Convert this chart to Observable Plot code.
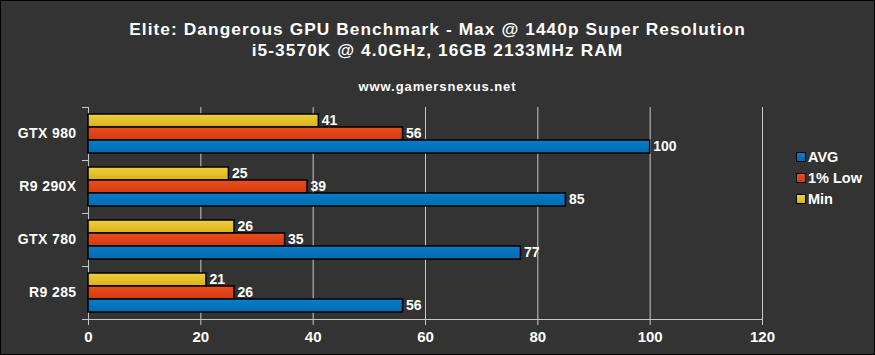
<!DOCTYPE html>
<html>
<head>
<meta charset="utf-8">
<script src="https://cdn.jsdelivr.net/npm/d3@7"></script>
<script src="https://cdn.jsdelivr.net/npm/@observablehq/plot@0.6"></script>
<style>
html, body { margin: 0; padding: 0; background: #333; }
#wrap { position: relative; width: 875px; height: 355px; background: #333; overflow: hidden;
  font-family: "Liberation Sans", Arial, sans-serif; font-weight: bold; color: #fff; }
#wrap::after { content: ""; position: absolute; left: 0; top: 0; right: 0; bottom: 0; border: 1px solid #000; pointer-events: none; }
.t { position: absolute; left: 0; width: 875px; text-align: center; white-space: nowrap; }
#chart { position: absolute; left: 0; top: 100px; }
#legend { position: absolute; left: 796px; top: 152px; }
.sw { position: absolute; left: 0; width: 10px; height: 10px; box-sizing: border-box; border: 1px solid #000; }
.lt { position: absolute; left: 12px; font-size: 14.5px; line-height: 14.5px; white-space: nowrap; }
</style>
</head>
<body>
<div id="wrap">
  <div class="t" id="t1" style="top:21px;font-size:17.3px;line-height:17.3px;letter-spacing:1.08px;"></div>
  <div class="t" id="t2" style="top:42px;font-size:17.3px;line-height:17.3px;letter-spacing:1.08px;"></div>
  <div class="t" id="cap" style="top:79.7px;font-size:13px;line-height:13px;letter-spacing:0.93px;"></div>
  <div id="chart"></div>
  <div id="legend"></div>
</div>
<script>
// ---- data ----
const titleLine1 = "Elite: Dangerous GPU Benchmark - Max @ 1440p Super Resolution";
const titleLine2 = "i5-3570K @ 4.0GHz, 16GB 2133MHz RAM";
const caption = "www.gamersnexus.net";
const gpus = ["GTX 980", "R9 290X", "GTX 780", "R9 285"];
const avgFps = [100, 85, 77, 56];
const lowFps = [56, 39, 35, 26];
const minFps = [41, 25, 26, 21];
const seriesTopToBottom = ["Min", "1% Low", "AVG"];
const legendOrder = ["AVG", "1% Low", "Min"];
const xTicks = [0, 20, 40, 60, 80, 100, 120];
const seriesColors = {
  "AVG":    ["#0a7ccb", "#006aae"],
  "1% Low": ["#ea4e1c", "#d43a10"],
  "Min":    ["#f0cf36", "#d9b21f"]
};

document.getElementById("t1").textContent = titleLine1;
document.getElementById("t2").textContent = titleLine2;
document.getElementById("cap").textContent = caption;

const values = {"AVG": avgFps, "1% Low": lowFps, "Min": minFps};
const data = gpus.flatMap((g, i) => seriesTopToBottom.map(s => ({gpu: g, series: s, value: values[s][i]})));
const gradId = s => "grad" + legendOrder.indexOf(s);

const W = 875, H = 255, mT = 6, mB = 35, mL = 88, mR = 113;
const lineColor = "#c8c8c8";

const plot = Plot.plot({
  width: W, height: H,
  marginTop: mT, marginBottom: mB, marginLeft: mL, marginRight: mR,
  style: {background: "transparent", color: "#fff", fontFamily: "Liberation Sans, Arial, sans-serif", overflow: "visible"},
  x: {domain: [xTicks[0], xTicks[xTicks.length - 1]]},
  fy: {domain: gpus, padding: 0},
  y: {domain: seriesTopToBottom, paddingInner: 0, paddingOuter: 0.5, align: 0.47, axis: null},
  color: {type: "identity"},
  marks: [
    Plot.gridX({ticks: xTicks, stroke: lineColor, strokeOpacity: 1}),
    Plot.barX(data, {fy: "gpu", y: "series", x: "value", fill: d => `url(#${gradId(d.series)})`, stroke: "#000", strokeWidth: 1.5}),
    Plot.text(data, {fy: "gpu", y: "series", x: "value", text: d => String(d.value), textAnchor: "start", dx: 3,
      fill: "#fff", fontSize: 14, fontWeight: "bold"}),
    Plot.axisX({ticks: xTicks, tickSize: 6, tickPadding: 6, stroke: lineColor, fill: "#fff", fontSize: 15, fontWeight: "bold", label: null}),
    Plot.axisFy({anchor: "left", tickSize: 0, tickPadding: 12, fill: "#fff", fontSize: 14, fontWeight: "bold", label: null})
  ]
});

// gradients
const svg = d3.select(plot);
const defs = svg.insert("defs", ":first-child");
legendOrder.forEach(s => {
  const lg = defs.append("linearGradient").attr("id", gradId(s)).attr("x1", 0).attr("y1", 0).attr("x2", 0).attr("y2", 1);
  lg.append("stop").attr("offset", "0%").attr("stop-color", seriesColors[s][0]);
  lg.append("stop").attr("offset", "100%").attr("stop-color", seriesColors[s][1]);
});
svg.selectAll("[aria-label='fy-axis tick label'] text, [aria-label='fy-axis tick label']").style("letter-spacing", "0.4px");

// category boundary ticks and bottom axis line, derived from the scales
const fy = plot.scale("fy"), xs = plot.scale("x");
const xa = xs.apply(xTicks[0]), xb = xs.apply(xTicks[xTicks.length - 1]);
const deco = svg.append("g").attr("stroke", lineColor).attr("stroke-width", 1);
gpus.forEach(g => {
  const y = Math.round(fy.apply(g)) + 0.5;
  deco.append("line").attr("x1", xa - 6).attr("x2", xa).attr("y1", y).attr("y2", y);
});
const yb = Math.round(fy.apply(gpus[gpus.length - 1]) + fy.bandwidth) + 0.5;
deco.append("line").attr("x1", xa - 6).attr("x2", xb).attr("y1", yb).attr("y2", yb);

document.getElementById("chart").appendChild(plot);

// legend
const legend = document.getElementById("legend");
legendOrder.forEach((s, i) => {
  const sw = document.createElement("div");
  sw.className = "sw";
  sw.style.top = (i * 21) + "px";
  sw.style.background = `linear-gradient(${seriesColors[s][0]}, ${seriesColors[s][1]})`;
  legend.appendChild(sw);
  const tx = document.createElement("div");
  tx.className = "lt";
  tx.style.top = (i * 21 - 2.5) + "px";
  tx.textContent = s;
  legend.appendChild(tx);
});
</script>
</body>
</html>
